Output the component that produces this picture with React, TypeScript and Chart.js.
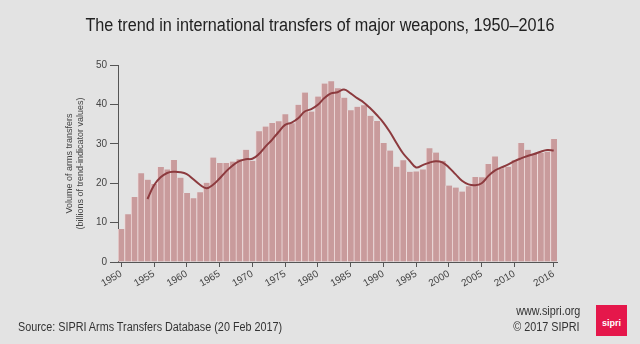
import React, { useEffect, useRef } from "react";
import { Chart, registerables } from "chart.js";

Chart.register(...registerables);

const years: number[] = [];
for (let y = 1950; y <= 2016; y++) years.push(y);

const transfers: number[] = [
  8.4, 12.1, 16.5, 22.5, 20.9, 19.8, 24.1, 23.5, 25.9, 21.4,
  17.5, 16.2, 17.7, 20.1, 26.5, 25.1, 25.1, 25.5, 26.1, 28.5,
  25.7, 33.2, 34.4, 35.3, 35.7, 37.5, 35.2, 39.9, 43.0, 38.2,
  42.0, 45.3, 45.9, 44.1, 41.7, 38.5, 39.4, 39.8, 37.1, 35.8,
  30.2, 28.3, 24.2, 25.8, 22.9, 23.0, 23.5, 28.9, 27.8, 25.7,
  19.4, 18.9, 17.9, 19.2, 21.6, 21.5, 24.9, 26.8, 23.8, 24.2,
  25.8, 30.2, 28.5, 27.5, 27.7, 28.0, 31.2,
];

const trend: (number | null)[] = [
  null, null, null, null, 16.0, 19.5, 21.5, 22.6, 22.9, 22.8,
  22.3, 21.0, 19.6, 18.7, 19.6, 21.2, 23.0, 24.5, 25.6, 26.1,
  26.2, 27.4, 29.3, 31.0, 33.0, 34.8, 35.4, 36.5, 38.2, 38.8,
  39.9, 41.6, 42.8, 43.1, 43.8, 42.8, 41.6, 40.5, 39.0, 37.3,
  35.4, 33.0, 30.2, 27.6, 25.7, 24.0, 24.6, 25.2, 25.6, 25.3,
  24.0, 22.3, 20.6, 19.7, 19.5, 20.0, 21.8, 23.2, 24.0, 24.7,
  25.6, 26.3, 26.9, 27.4, 28.0, 28.4, 28.3,
];

const yTicks: number[] = [0, 10, 20, 30, 40, 50];

const titleText = "The trend in international transfers of major weapons, 1950\u20132016";
const yTitle = ["Volume of arms transfers", "(billions of trend-indicator values)"];
const sourceText = "Source: SIPRI Arms Transfers Database (20 Feb 2017)";
const siteText = "www.sipri.org";
const copyText = "\u00a9 2017 SIPRI";

const showLabel = (i: number) => {
  const y = years[i];
  return (y % 5 === 0 && y <= 2010) || y === 2016;
};

const SANS = "'Liberation Sans', Arial, sans-serif";

export default function App() {
  const ref = useRef<HTMLCanvasElement>(null);

  useEffect(() => {
    document.body.style.margin = "0";
    const ctx = ref.current!.getContext("2d")!;
    const chart = new Chart(ctx, {
      type: "bar",
      data: {
        labels: years.map(String),
        datasets: [
          {
            type: "line",
            data: trend,
            borderColor: "#8c3a3e",
            borderWidth: 2,
            pointRadius: 0,
            tension: 0.4,
            spanGaps: false,
            order: 0,
          } as any,
          {
            type: "bar",
            data: transfers,
            backgroundColor: "#c99b9c",
            borderColor: "#efdada",
            borderWidth: { top: 0, right: 0, bottom: 0, left: 1 },
            borderSkipped: false,
            barPercentage: 1,
            categoryPercentage: 1,
            order: 1,
          } as any,
        ],
      },
      options: {
        responsive: false,
        animation: false,
        layout: { padding: { left: 63, right: 83, top: 65, bottom: 52 } },
        plugins: { legend: { display: false }, tooltip: { enabled: false }, title: { display: false } },
        scales: {
          x: {
            offset: true,
            grid: {
              offset: false,
              drawOnChartArea: false,
              drawTicks: true,
              tickLength: 5,
              color: (c: any) => (showLabel(c.index) ? "#555" : "rgba(0,0,0,0)"),
            },
            border: { display: true, color: "#555", width: 1 },
            ticks: {
              autoSkip: false,
              minRotation: 30,
              maxRotation: 30,
              padding: 1,
              color: "#444",
              font: { family: SANS, size: 10 },
              callback: (_v: any, i: number) => (showLabel(i) ? String(years[i]) : ""),
            },
            afterFit: (s: any) => {
              s.height = 30;
            },
          },
          y: {
            min: 0,
            max: 50,
            afterBuildTicks: (s: any) => {
              s.ticks = yTicks.map((v) => ({ value: v }));
            },
            grid: { drawOnChartArea: false, drawTicks: true, tickLength: 8, color: "#555" },
            border: { display: true, color: "#555", width: 1 },
            ticks: { color: "#444", padding: 3, font: { family: SANS, size: 10 } },
            title: {
              display: true,
              text: yTitle,
              color: "#444",
              font: { family: SANS, size: 9, lineHeight: 1.2 },
              padding: { top: 1, bottom: 0 },
            },
            afterFit: (s: any) => {
              s.width = 55;
            },
          },
        },
      },
    });
    return () => chart.destroy();
  }, []);

  return (
    <div
      style={{
        position: "relative",
        width: 640,
        height: 344,
        background: "#e3e3e3",
        overflow: "hidden",
        fontFamily: SANS,
        color: "#222",
      }}
    >
      <canvas ref={ref} width={640} height={344} style={{ position: "absolute", left: 0, top: 0 }} />
      <div
        style={{
          position: "absolute",
          top: 14,
          left: 0,
          width: 640,
          textAlign: "center",
          fontSize: 18,
          lineHeight: "22px",
          color: "#222",
          transform: "scaleX(0.9)",
          transformOrigin: "320px 0",
        }}
      >
        {titleText}
      </div>
      <div
        style={{
          position: "absolute",
          left: 18,
          top: 319,
          fontSize: 12,
          lineHeight: "16px",
          color: "#333",
          whiteSpace: "nowrap",
          transform: "scaleX(0.9)",
          transformOrigin: "0 0",
        }}
      >
        {sourceText}
      </div>
      <div
        style={{
          position: "absolute",
          right: 60,
          top: 303,
          fontSize: 12,
          lineHeight: "16px",
          color: "#333",
          textAlign: "right",
          whiteSpace: "nowrap",
          transform: "scaleX(0.9)",
          transformOrigin: "100% 0",
        }}
      >
        {siteText}
      </div>
      <div
        style={{
          position: "absolute",
          right: 60,
          top: 319,
          fontSize: 12,
          lineHeight: "16px",
          color: "#333",
          textAlign: "right",
          whiteSpace: "nowrap",
          transform: "scaleX(0.9)",
          transformOrigin: "100% 0",
        }}
      >
        {copyText}
      </div>
      <div
        style={{
          position: "absolute",
          left: 596,
          top: 305,
          width: 31,
          height: 31,
          background: "#e5174b",
          color: "#fff",
          fontFamily: SANS,
          fontWeight: "bold",
          fontSize: 9,
          display: "flex",
          alignItems: "flex-end",
          justifyContent: "center",
          boxSizing: "border-box",
        }}
      >
        <span style={{ marginBottom: 8 }}>sipri</span>
      </div>
    </div>
  );
}
